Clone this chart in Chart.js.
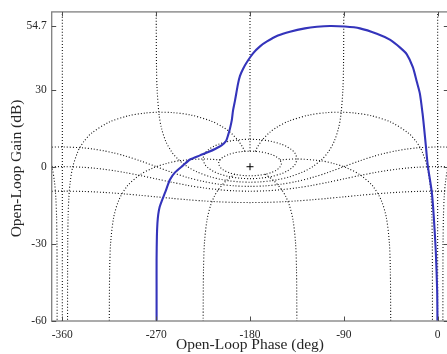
<!DOCTYPE html>
<html>
<head>
<meta charset="utf-8">
<script src="https://cdn.jsdelivr.net/npm/chart.js@4.4.0/dist/chart.umd.min.js"></script>
<style>
  html, body { margin: 0; padding: 0; background: #fff; overflow: hidden; width: 447px; height: 354px; }
  #wrap { position: relative; width: 460px; height: 354px; }
</style>
</head>
<body>
<div id="wrap"><canvas id="nichols" width="460" height="354" style="width:460px;height:354px"></canvas></div>
<script>
// Nichols chart: open-loop response over the closed-loop grid

var phaseTicks = [-360, -270, -180, -90, 0];
var gainTicks = [-60, -30, 0, 30, 54.7];

// open-loop response (deg, dB)
var loopPhase = [-269.6, -269.6, -269.6, -269.3, -268.8, -268, -266.6, -264.5, -261.4, -256.7, -251.9, -244.2, -237.5, -228, -220, -213.5, -207, -203, -201, -199.2, -197.5, -196.3, -194.4, -191.5, -189.6, -186.7, -182.9, -177.1, -170.4, -163.7, -153.2, -141.7, -127.3, -115.8, -103.4, -89, -74.6, -58.3, -45.9, -36.3, -29.6, -23.8, -20, -17.1, -14.5, -13, -11.3, -9.5, -5.6, -3.7, -1.8, -0.5, -0.2];
var loopGain = [-60, -48, -36, -27, -22, -18.5, -15.6, -13.2, -10, -5, -2.2, 0.5, 2.8, 4.4, 5.7, 6.9, 8.4, 10, 12.3, 14.9, 18, 21.8, 25.7, 32.2, 35.3, 38, 40.7, 44.1, 46.8, 48.7, 51, 52.5, 53.8, 54.4, 54.7, 54.5, 53.8, 51.7, 49.4, 46.4, 43.7, 38.7, 33, 28.5, 20.7, 15, 8, 0.5, -10, -19.6, -32.9, -48, -60];

// closed-loop gain contours
var m6Phase = [-180, -175, -170, -165, -160, -155, -152, -150, -149.95, -150, -152, -155, -160, -165, -170, -175, -180, -185, -190, -195, -200, -205, -208, -210, -210.05, -210, -208, -205, -200, -195, -190, -185, -180];
var m6Gain = [6.04, 5.98, 5.77, 5.4, 4.83, 3.92, 3.01, 1.6, 1.26, 0.91, -0.49, -1.41, -2.32, -2.89, -3.26, -3.46, -3.53, -3.46, -3.26, -2.89, -2.32, -1.41, -0.49, 0.91, 1.26, 1.6, 3.01, 3.92, 4.83, 5.4, 5.77, 5.98, 6.04];

var m3Phase = [-180, -170, -160, -150, -145, -140, -137, -135, -134.93, -135, -137, -140, -145, -150, -160, -170, -180, -190, -200, -210, -215, -220, -223, -225, -225.07, -225, -223, -220, -215, -210, -200, -190, -180];
var m3Gain = [10.69, 10.5, 9.9, 8.76, 7.87, 6.57, 5.33, 3.44, 3.02, 2.6, 0.71, -0.53, -1.83, -2.72, -3.86, -4.46, -4.65, -4.46, -3.86, -2.72, -1.83, -0.53, 0.71, 2.6, 3.02, 3.44, 5.33, 6.57, 7.87, 8.76, 9.9, 10.5, 10.69];

var m0Phase = [-269.97, -269.97, -269.71, -269.09, -267.13, -264.9, -260.9, -255.5, -249.3, -240, -230.9, -217.6, -207.2, -199.8, -189.6, -180, -170.4, -160.2, -152.8, -142.4, -129.1, -120, -110.7, -104.5, -99.1, -95.1, -92.87, -90.91, -90.29, -90.03, -90.03];
var m0Gain = [60.2, 60, 40, 30, 20, 15, 10, 6, 3, 0, -2, -4, -5, -5.5, -5.9, -6.02, -5.9, -5.5, -5, -4, -2, 0, 3, 6, 10, 15, 20, 30, 40, 60, 60.2];

var mWidePhase = [-370, -360, -340, -330, -320, -310, -300, -285, -270, -255, -240, -225, -210, -195, -180, -165, -150, -135, -120, -105, -90, -75, -60, -50, -40, -30, -20, 0, 10];
var mMinus3Gain = [7.6, 7.69, 7.32, 6.84, 6.16, 5.29, 4.21, 2.25, 0.02, -2.21, -4.17, -5.71, -6.8, -7.44, -7.65, -7.44, -6.8, -5.71, -4.17, -2.21, 0.02, 2.25, 4.21, 5.29, 6.16, 6.84, 7.32, 7.69, 7.6];
var mMinus6Gain = [-0.02, 0.04, -0.22, -0.55, -1.01, -1.58, -2.26, -3.45, -4.74, -6.04, -7.23, -8.21, -8.93, -9.38, -9.53, -9.38, -8.93, -8.21, -7.23, -6.04, -4.74, -3.45, -2.26, -1.58, -1.01, -0.55, -0.22, 0.04, -0.02];
var mMinus12Gain = [-9.52, -9.49, -9.62, -9.78, -10, -10.27, -10.59, -11.13, -11.72, -12.3, -12.84, -13.3, -13.65, -13.87, -13.95, -13.87, -13.65, -13.3, -12.84, -12.3, -11.72, -11.13, -10.59, -10.27, -10, -9.78, -9.62, -9.49, -9.52];

// closed-loop phase contours
var nZeroLeftPhase = [-360, -360];
var nZeroLeftGain = [-60, 60.2];
var nZeroRightPhase = [0, 0];
var nZeroRightGain = [-60, 60.2];
var nZeroMidPhase = [-180, -180];
var nZeroMidGain = [6.04, 60.2];

var nMinus5Phase = [-175.04, -172.6, -168.6, -161.05, -154.2, -142.83, -122.9, -105.5, -92.5, -79.7, -63.3, -45, -28.16, -21, -17.18, -14.8, -9.96, -7.5, -6.25, -5.55, -5.17, -5.05, -5.005];
var nMinus5Gain = [5.95, 7.84, 10.21, 13.37, 15.38, 17.74, 20.12, 21.05, 21.19, 20.88, 19.79, 17.36, 13.09, 10, 7.68, 5.83, -0.07, -6.05, -12.05, -19.1, -29.25, -39.9, -60];
var nPlus5Phase = [-184.96, -187.4, -191.4, -198.95, -205.8, -217.17, -237.1, -254.5, -267.5, -280.3, -296.7, -315, -331.84, -339, -342.82, -345.2, -350.04, -352.5, -353.75, -354.45, -354.83, -354.95, -354.995];
var nPlus5Gain = [5.95, 7.84, 10.21, 13.37, 15.38, 17.74, 20.12, 21.05, 21.19, 20.88, 19.79, 17.36, 13.09, 10, 7.68, 5.83, -0.07, -6.05, -12.05, -19.1, -29.25, -39.9, -60];
var nEdgeLeftPhase = [-377.18, -374.8, -369.96, -367.5, -366.25, -365.55, -365.17, -365.05, -365.005];
var nEdgeLeftGain = [7.68, 5.83, -0.07, -6.05, -12.05, -19.1, -29.25, -39.9, -60];
var nEdgeRightPhase = [17.18, 14.8, 9.96, 7.5, 6.25, 5.55, 5.17, 5.05, 5.005];
var nEdgeRightGain = [7.68, 5.83, -0.07, -6.05, -12.05, -19.1, -29.25, -39.9, -60];

var nMinus45Phase = [-151.3, -135, -112.5, -100.1, -86.7, -73.7, -62.1, -54.4, -49.4, -46.4, -45.4, -45.04];
var nMinus45Gain = [2.65, 3.01, 2.33, 1.29, -0.53, -3.37, -7.6, -12.8, -19.4, -29.3, -39.9, -60];
var nPlus45Phase = [-208.7, -225, -247.5, -259.9, -273.3, -286.3, -297.9, -305.6, -310.6, -313.6, -314.6, -314.96];
var nPlus45Gain = [2.65, 3.01, 2.33, 1.29, -0.53, -3.37, -7.6, -12.8, -19.4, -29.3, -39.9, -60];

var nMinus135Phase = [-165.4, -157.5, -149.6, -145.8, -142.1, -138.8, -136.3, -135.4, -135.04];
var nMinus135Gain = [-2.9, -5.33, -8.94, -11.5, -15.2, -20.6, -29.7, -40, -60];
var nPlus135Phase = [-194.6, -202.5, -210.4, -214.2, -217.9, -221.2, -223.7, -224.6, -224.96];
var nPlus135Gain = [-2.9, -5.33, -8.94, -11.5, -15.2, -20.6, -29.7, -40, -60];

var criticalPhase = [-180];
var criticalGain = [0];

var SERIF = '"Liberation Serif", "Times New Roman", serif';
var TEXT = '#262626';
var AXIS = '#7f7f7f';

function pts(ph, g) {
  return ph.map(function(p, i) { return { x: p, y: g[i] }; });
}

function gridSet(ph, g) {
  return {
    data: pts(ph, g),
    showLine: true,
    pointRadius: 0,
    borderColor: 'rgba(0,0,0,0.95)',
    borderWidth: 1.1,
    borderDash: [1, 2],
    tension: 0.3,
    clip: 0,
    fill: false
  };
}

var datasets = [
  {
    data: pts(loopPhase, loopGain),
    showLine: true,
    pointRadius: 0,
    borderColor: '#3434bb',
    borderWidth: 2.1,
    tension: 0.25,
    fill: false,
    clip: 0
  },
  {
    data: pts(criticalPhase, criticalGain),
    showLine: false,
    pointStyle: 'cross',
    pointRadius: 3.5,
    borderColor: '#000',
    borderWidth: 1
  },
  gridSet(m6Phase, m6Gain),
  gridSet(m3Phase, m3Gain),
  gridSet(m0Phase, m0Gain),
  gridSet(mWidePhase, mMinus3Gain),
  gridSet(mWidePhase, mMinus6Gain),
  gridSet(mWidePhase, mMinus12Gain),
  gridSet(nZeroLeftPhase, nZeroLeftGain),
  gridSet(nZeroRightPhase, nZeroRightGain),
  gridSet(nZeroMidPhase, nZeroMidGain),
  gridSet(nMinus5Phase, nMinus5Gain),
  gridSet(nPlus5Phase, nPlus5Gain),
  gridSet(nEdgeLeftPhase, nEdgeLeftGain),
  gridSet(nEdgeRightPhase, nEdgeRightGain),
  gridSet(nMinus45Phase, nMinus45Gain),
  gridSet(nPlus45Phase, nPlus45Gain),
  gridSet(nMinus135Phase, nMinus135Gain),
  gridSet(nPlus135Phase, nPlus135Gain)
];

// Frame with inward ticks on all four sides, plus the axis titles
var framePlugin = {
  id: 'nicholsFrame',
  afterDraw: function(chart) {
    var ctx = chart.ctx;
    var a = chart.chartArea;
    var xs = chart.scales.x, ys = chart.scales.y;
    ctx.save();
    ctx.strokeStyle = AXIS;
    ctx.lineWidth = 1.3;
    ctx.strokeRect(a.left, a.top, a.right - a.left, a.bottom - a.top);
    ctx.strokeStyle = '#4d4d4d';
    ctx.lineWidth = 1;
    var tl = 4.5;
    phaseTicks.forEach(function(v) {
      var px = Math.round(xs.getPixelForValue(v)) + 0.5;
      ctx.beginPath();
      ctx.moveTo(px, a.bottom); ctx.lineTo(px, a.bottom - tl);
      ctx.moveTo(px, a.top); ctx.lineTo(px, a.top + tl);
      ctx.stroke();
    });
    gainTicks.forEach(function(v) {
      var py = Math.round(ys.getPixelForValue(v)) + 0.5;
      ctx.beginPath();
      ctx.moveTo(a.left, py); ctx.lineTo(a.left + tl, py);
      ctx.moveTo(a.right, py); ctx.lineTo(a.right - tl, py);
      ctx.stroke();
    });
    ctx.fillStyle = TEXT;
    ctx.font = '15.5px ' + SERIF;
    ctx.textAlign = 'center';
    ctx.textBaseline = 'alphabetic';
    ctx.fillText('Open-Loop Phase (deg)', xs.getPixelForValue(-180), 349);
    ctx.translate(21, (a.top + a.bottom) / 2 + 2);
    ctx.rotate(-Math.PI / 2);
    ctx.fillText('Open-Loop Gain (dB)', 0, 0);
    ctx.restore();
  }
};

new Chart(document.getElementById('nichols'), {
  type: 'scatter',
  data: { datasets: datasets },
  options: {
    responsive: false,
    animation: false,
    events: [],
    layout: { padding: { top: 7.3, right: 11.7, left: 0, bottom: 0 } },
    plugins: { legend: { display: false }, tooltip: { enabled: false }, title: { display: false } },
    scales: {
      x: {
        type: 'linear',
        min: -370.2,
        max: 10.2,
        afterBuildTicks: function(s) { s.ticks = phaseTicks.map(function(v) { return { value: v }; }); },
        afterFit: function(s) { s.height = 33; },
        grid: { display: false, drawTicks: false },
        border: { display: false },
        ticks: {
          autoSkip: false, maxRotation: 0, padding: 7, color: TEXT,
          font: { family: SERIF, size: 11.5 },
          callback: function(v) { return String(v); }
        }
      },
      y: {
        type: 'linear',
        min: -60,
        max: 60.2,
        afterBuildTicks: function(s) { s.ticks = gainTicks.map(function(v) { return { value: v }; }); },
        afterFit: function(s) { s.width = 51.7; },
        grid: { display: false, drawTicks: false },
        border: { display: false },
        ticks: {
          autoSkip: false, padding: 5, color: TEXT,
          font: { family: SERIF, size: 11.5 },
          callback: function(v) { return String(v); }
        }
      }
    }
  },
  plugins: [framePlugin]
});
</script>
</body>
</html>
